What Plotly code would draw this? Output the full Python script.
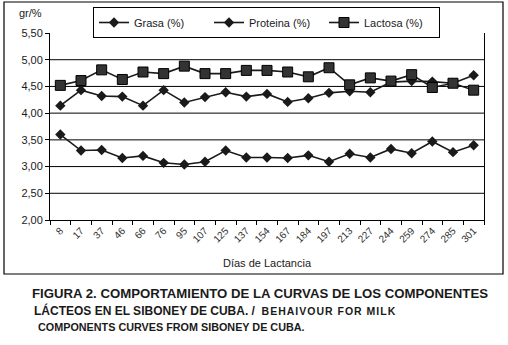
import plotly.graph_objects as go

dias = ["8", "17", "37", "46", "66", "76", "95", "107", "125", "137", "154",
        "167", "184", "197", "213", "227", "244", "259", "274", "285", "301"]
grasa = [4.14, 4.43, 4.32, 4.31, 4.14, 4.43, 4.20, 4.30, 4.39, 4.31, 4.36,
         4.21, 4.28, 4.38, 4.41, 4.39, 4.58, 4.60, 4.59, 4.56, 4.71]
proteina = [3.60, 3.30, 3.31, 3.16, 3.20, 3.07, 3.04, 3.09, 3.30, 3.17, 3.17,
            3.16, 3.21, 3.09, 3.24, 3.17, 3.33, 3.25, 3.47, 3.27, 3.40]
lactosa = [4.52, 4.61, 4.81, 4.63, 4.77, 4.74, 4.88, 4.74, 4.74, 4.80, 4.80,
           4.77, 4.68, 4.85, 4.53, 4.66, 4.60, 4.72, 4.48, 4.56, 4.43]
y_ticks = [2.0, 2.5, 3.0, 3.5, 4.0, 4.5, 5.0, 5.5]
grid_vals = [2.5, 3.0, 3.5, 4.0, 4.5, 5.0]

W, H = 508, 345
L, R, T, B = 50, 24, 33, 125
PW, PH = W - L - R, H - T - B

def px(x):
    return (x - L) / PW

def py(y):
    return (H - B - y) / PH

FONT = "Liberation Sans, Arial, sans-serif"
INK = "#1a1a1a"

fig = go.Figure()
fig.add_trace(go.Scatter(x=dias, y=grasa, name="Grasa (%)", mode="lines+markers",
                         line=dict(color=INK, width=1.6),
                         marker=dict(symbol="diamond", size=8, color=INK)))
fig.add_trace(go.Scatter(x=dias, y=proteina, name="Proteina (%)", mode="lines+markers",
                         line=dict(color=INK, width=1.6),
                         marker=dict(symbol="diamond", size=8, color=INK)))
fig.add_trace(go.Scatter(x=dias, y=lactosa, name="Lactosa (%)", mode="lines+markers",
                         line=dict(color=INK, width=1.6),
                         marker=dict(symbol="square", size=10, color="#333333",
                                     line=dict(color="#000000", width=1))))

shapes = []
for g in grid_vals:
    shapes.append(dict(type="line", xref="paper", yref="y", x0=0, x1=1, y0=g, y1=g,
                       line=dict(color="#000000", width=1), layer="below"))
shapes.append(dict(type="rect", xref="paper", yref="paper",
                   x0=px(4), x1=px(503), y0=py(274), y1=py(2),
                   line=dict(color="#000000", width=1.2)))

annotations = [
    dict(text="gr/%", xref="paper", yref="paper", x=px(17), y=py(13), xanchor="left",
         yanchor="middle", showarrow=False, font=dict(size=11, color=INK, family=FONT)),
    dict(text="Días de Lactancia", xref="paper", yref="paper", x=px(267), y=py(263),
         xanchor="center", yanchor="middle", showarrow=False,
         font=dict(size=11, color=INK, family=FONT)),
    dict(text="<b>FIGURA 2. COMPORTAMIENTO DE LA CURVAS DE LOS COMPONENTES</b>",
         xref="paper", yref="paper", x=px(30), y=py(293), xanchor="left", yanchor="middle",
         showarrow=False, font=dict(size=13.2, color=INK, family=FONT)),
    dict(text="<b>LÁCTEOS EN EL SIBONEY DE CUBA. /  "
              "<span style='font-size:10.5px;letter-spacing:1px'>BEHAIVOUR FOR MILK</span></b>",
         xref="paper", yref="paper", x=px(32), y=py(310), xanchor="left", yanchor="middle",
         showarrow=False, font=dict(size=12, color=INK, family=FONT)),
    dict(text="<b>COMPONENTS CURVES FROM SIBONEY DE CUBA.</b>",
         xref="paper", yref="paper", x=px(36), y=py(327), xanchor="left", yanchor="middle",
         showarrow=False, font=dict(size=10.8, color=INK, family=FONT)),
]

fig.update_layout(
    width=W, height=H,
    margin=dict(l=L, r=R, t=T, b=B, autoexpand=False),
    paper_bgcolor="white", plot_bgcolor="white",
    separators=", ",
    font=dict(family=FONT, color=INK, size=11),
    showlegend=True,
    legend=dict(orientation="h", x=px(93), y=py(7), xanchor="left", yanchor="top",
                bordercolor="#000000", borderwidth=1, bgcolor="white",
                entrywidth=70, entrywidthmode="pixels",
                font=dict(size=11, color=INK, family=FONT)),
    shapes=shapes,
    annotations=annotations,
)
fig.update_xaxes(type="category", range=[-0.5, len(dias) - 0.5], tickson="boundaries",
                 ticks="outside", ticklen=4,
                 tickcolor="#000000", tickangle=-45, showline=True, linecolor="#000000",
                 linewidth=1, showgrid=False, tickfont=dict(size=10, color="#333333"),
                 automargin=False)
fig.update_yaxes(range=[2, 5.5], tickvals=y_ticks, tickformat=".2f", ticks="outside",
                 ticklen=4, tickcolor="#000000", showline=True, linecolor="#000000",
                 linewidth=1, mirror=True, showgrid=False, zeroline=False,
                 tickfont=dict(size=11, color=INK), automargin=False)

fig.write_html("out.html", config={"displayModeBar": False},
               post_script="document.body.style.margin='0';")
